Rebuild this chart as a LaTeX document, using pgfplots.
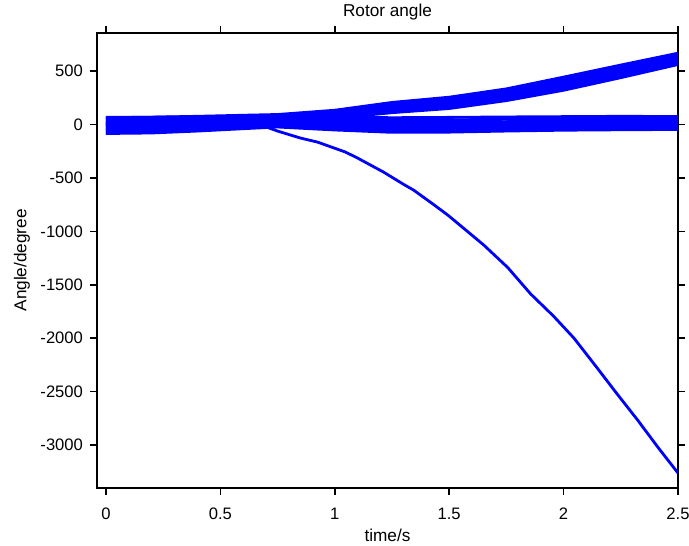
\documentclass[border=0pt]{standalone}
\usepackage{fontspec}
\setmainfont{Liberation Sans}
\usepackage{pgfplots}
\usepackage{pgfplotstable}
\pgfplotsset{compat=1.18}
\usetikzlibrary{calc}
\definecolor{mblue}{RGB}{0,0,255}

% rotor angles of the generators (degree), common time grid
\pgfplotstableread{
x     a1   a2   a3   a4   a5   a6   a7   a8   b1   b2   b3   b4   b5   b6   b7   b8
0     -75  -50  -30  -10  10   30   50   65   -83  -60  -40  -20  0    20   45   69
0.2   -65  -40  -20  0    18   35   55   70   -78  -55  -35  -15  5    25   45   70
0.4   -45  -25  -5   12   28   45   62   78   -60  -40  -25  -5   10   30   50   72
0.6   -10  5    18   30   42   55   70   88   -38  -28  -15  5    20   38   55   75
0.75  20   31   41   52   63   73   84   95   -22  -10  0    15   28   42   58   80
1.0   60   71   81   92   103  114  124  135  -50  -35  -15  0    18   35   52   72
1.25  112  126  139  153  167  181  194  208  -72  -55  -35  -15  5    25   45   65
1.5   151  166  181  196  212  227  242  257  -70  -58  -40  -20  0    22   45   68
1.75  225  241  256  272  288  304  319  335  -60  -48  -30  -10  8    28   50   72
2.0   322  340  357  375  392  410  427  445  -52  -40  -20  -2   15   35   55   75
2.25  440  457  474  491  507  524  541  558  -48  -35  -18  0    18   38   58   78
2.5   563  578  593  608  624  639  654  669  -45  -30  -12  5    22   40   60   76
}\rotor

\begin{document}
\begin{tikzpicture}
\begin{axis}[
  name=ax,
  scale only axis,
  width=290.5pt, height=227.5pt,
  xmin=-0.039, xmax=2.5,
  ymin=-3400, ymax=860,
  xtick={0,0.5,...,2.5},
  ytick={-3000,-2500,...,500},
  tick align=outside,
  major tick length=3.5pt,
  every tick/.style={black, line width=0.8pt},
  axis line style={line width=1.15pt},
  /pgf/number format/assume math mode=true,
  /pgf/number format/1000 sep={},
  tick label style={font=\fontsize{8.3}{10}\selectfont},
  xticklabel style={yshift=-3pt},
  label style={font=\fontsize{8.6}{10}\selectfont},
  title style={font=\fontsize{8.6}{10}\selectfont,
    at={(axis description cs:0.5,1)}, anchor=center, yshift=4.4pt},
  xlabel style={at={(axis description cs:0.5,0)}, anchor=center, yshift=-24pt},
  ylabel style={at={(axis description cs:0,0.5)}, anchor=center, yshift=37.5pt},
  xlabel={time/s},
  ylabel={Angle/degree},
  title={Rotor angle},
]
\pgfplotsinvokeforeach{a1,a2,a3,a4,a5,a6,a7,a8,b1,b2,b3,b4,b5,b6,b7,b8}{
  \addplot[mblue, line width=1.4pt] table[x=x, y=#1] {\rotor};
}
% the generator that loses synchronism
\addplot[mblue, line width=1.4pt] coordinates {
  (0,5) (0.2,10) (0.4,20) (0.6,28) (0.66,10) (0.75,-60) (0.849,-125)
  (0.924,-163) (1.046,-256) (1.099,-312) (1.213,-444) (1.300,-558)
  (1.344,-612) (1.432,-748) (1.497,-852) (1.594,-1025) (1.651,-1127)
  (1.756,-1338) (1.856,-1585) (1.957,-1795) (2.045,-1998) (2.141,-2262)
  (2.229,-2508) (2.325,-2770) (2.412,-3020) (2.500,-3262)};
\end{axis}
\pgfresetboundingbox
\path ($(ax.south west)+(-48.5pt,-29pt)$) rectangle ($(ax.north east)+(5.5pt,16.4pt)$);
\end{tikzpicture}
\end{document}
